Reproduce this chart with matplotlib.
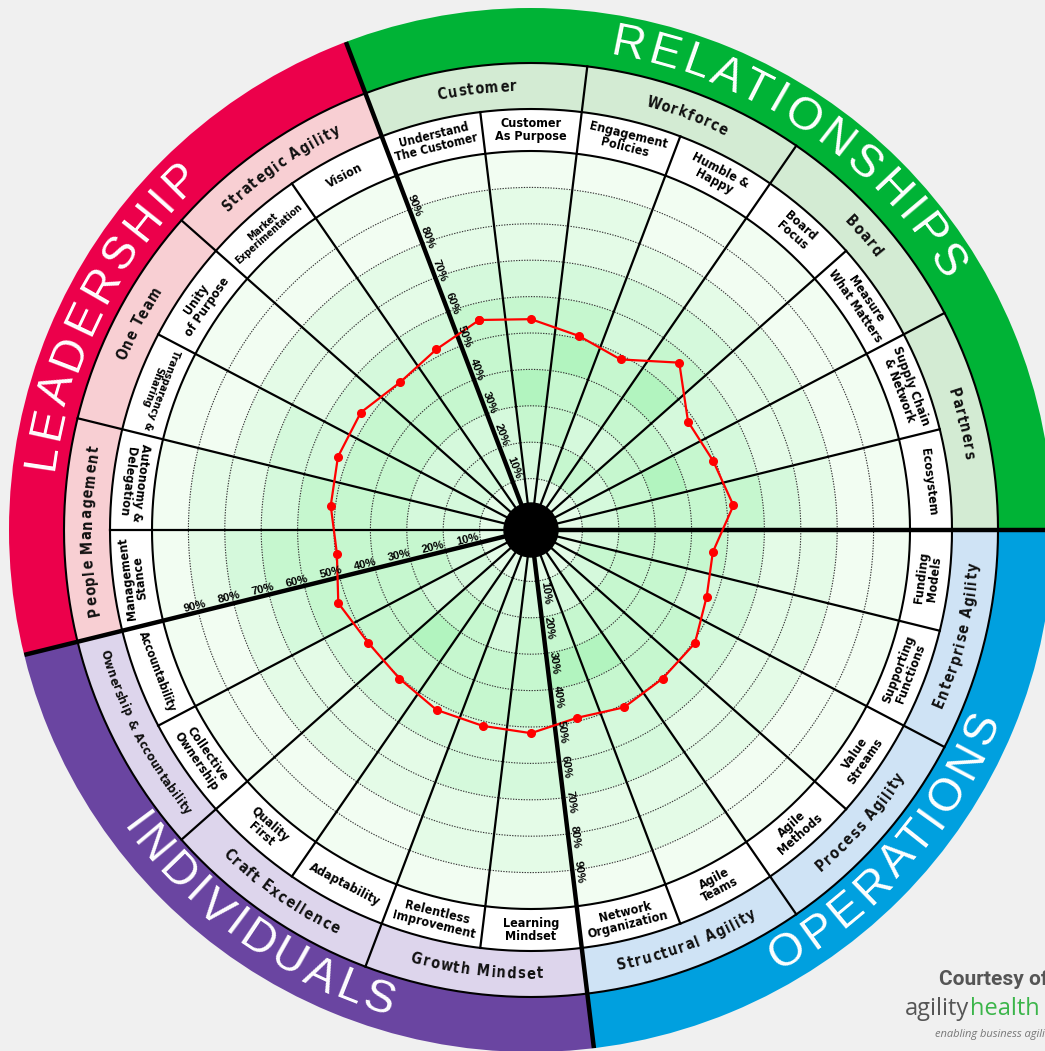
import numpy as np
import matplotlib
matplotlib.use('Agg')
import matplotlib.pyplot as plt
from matplotlib.patches import Circle
from matplotlib.font_manager import FontProperties
from matplotlib.textpath import text_to_path

# ---------------- data ----------------
quadrants = ['RELATIONSHIPS', 'OPERATIONS', 'INDIVIDUALS', 'LEADERSHIP']
quadrant_item_counts = [8, 6, 6, 6]
subcategories = ['Customer', 'Workforce', 'Board', 'Partners',
                 'Enterprise Agility', 'Process Agility', 'Structural Agility',
                 'Growth Mindset', 'Craft Excellence', 'Ownership & Accountability',
                 'People Management', 'One Team', 'Strategic Agility']
items = ['Understand\nThe Customer', 'Customer\nAs Purpose', 'Engagement\nPolicies',
         'Humble &\nHappy', 'Board\nFocus', 'Measure\nWhat Matters',
         'Supply Chain\n& Network', 'Ecosystem', 'Funding\nModels',
         'Supporting\nFunctions', 'Value\nStreams', 'Agile\nMethods', 'Agile\nTeams',
         'Network\nOrganization', 'Learning\nMindset', 'Relentless\nImprovement',
         'Adaptability', 'Quality\nFirst', 'Collective\nOwnership', 'Accountability',
         'Management\nStance', 'Autonomy &\nDelegation', 'Transparency &\nSharing',
         'Unity\nof Purpose', 'Market\nExperimentation', 'Vision']
scores = [55.3, 53.8, 50.8, 48.8, 57.3, 48.3, 49.4, 51.9, 46.2, 47.5, 50.6, 50.4, 50.9,
          49.0, 51.7, 51.3, 51.7, 50.4, 50.3, 52.5, 49.6, 51.3, 52.6, 52.7, 50.1, 51.9]
pct_ticks = [10, 20, 30, 40, 50, 60, 70, 80, 90]
# shading level of each 10% band (0-10 ... 90-100) for each item
shade_levels = [
    [1, 2, 2, 3, 3, 3, 2, 1, 1, 0],
    [1, 2, 3, 4, 3, 3, 2, 1, 1, 0],
    [1, 2, 3, 3, 4, 3, 2, 1, 1, 0],
    [1, 3, 2, 3, 3, 2, 2, 1, 0, 0],
    [1, 3, 2, 3, 4, 3, 2, 1, 0, 0],
    [1, 2, 3, 3, 2, 2, 1, 1, 0, 0],
    [1, 2, 3, 4, 3, 2, 1, 1, 0, 0],
    [1, 2, 3, 3, 3, 3, 2, 1, 0, 0],
    [1, 2, 3, 3, 3, 2, 1, 1, 0, 0],
    [1, 3, 3, 3, 2, 2, 1, 1, 0, 0],
    [1, 2, 3, 3, 3, 2, 1, 1, 0, 0],
    [1, 2, 3, 3, 3, 2, 1, 1, 0, 0],
    [1, 2, 3, 4, 3, 2, 2, 1, 1, 0],
    [1, 2, 3, 4, 3, 2, 2, 1, 1, 0],
    [1, 2, 3, 3, 3, 2, 2, 1, 1, 0],
    [1, 2, 2, 3, 3, 2, 2, 1, 1, 0],
    [1, 2, 3, 3, 3, 2, 1, 1, 0, 0],
    [1, 2, 3, 4, 3, 2, 1, 1, 0, 0],
    [1, 2, 2, 3, 3, 2, 1, 1, 0, 0],
    [1, 2, 3, 3, 3, 3, 2, 1, 0, 0],
    [1, 2, 3, 3, 3, 3, 3, 2, 1, 0],
    [1, 2, 2, 3, 3, 3, 2, 1, 1, 0],
    [1, 2, 2, 3, 3, 2, 2, 1, 0, 0],
    [1, 2, 2, 3, 3, 2, 1, 1, 0, 0],
    [1, 2, 2, 3, 3, 2, 1, 1, 0, 0],
    [1, 2, 2, 3, 3, 2, 1, 1, 0, 0],
]

# ---------------- style ----------------
level_colors = ['#f2fdf2', '#e4fbe7', '#d5f9dc', '#c6f7cf', '#b2f4bf']
quad_colors = ['#00b336', '#00a0df', '#6a45a1', '#ec004b']
sub_colors = ['#d3ebd3', '#cfe3f5', '#ddd5ec', '#f8cfd3']
# first / last letter angle of the big curved quadrant titles, reading direction
quad_text_pos = [(78.7, 32.8, True), (-58.6, -23.7, False),
                 (-143.3, -107.9, False), (171.5, 135.0, True)]
item_inward_override = {'Autonomy &\nDelegation': True, 'Transparency &\nSharing': True,
                        'Management\nStance': False}

W, H = 1045, 1051
CX, CY = 531, 530
R_OUT = 522
PX_PER = 3.64
R_ZERO = 15.0


def v(px):
    return (px - R_ZERO) / PX_PER


R_ITEM_IN, R_ITEM_OUT, R_SUB_OUT = 379, 421, 467

fig = plt.figure(figsize=(W / 100, H / 100), dpi=100, facecolor='#f0f0f0')
ax = fig.add_axes([(CX - R_OUT) / W, (H - CY - R_OUT) / H, 2 * R_OUT / W, 2 * R_OUT / H],
                  projection='polar')
ax.set_ylim(0, v(R_OUT))
ax.set_rorigin(v(0))
ax.axis('off')

N = len(items)
step = 360.0 / N
start = quadrant_item_counts[0] * step
item_deg = np.array([start - (i + 0.5) * step for i in range(N)])
item_th = np.deg2rad(item_deg)

# heat cells
for k in range(10):
    cols = [level_colors[shade_levels[i][k]] for i in range(N)]
    ax.bar(item_th, 10, width=np.deg2rad(step), bottom=10 * k, color=cols,
           edgecolor=cols, linewidth=0.4, align='center', zorder=1)

# item ring
ax.bar(item_th, v(R_ITEM_OUT) - v(R_ITEM_IN), width=np.deg2rad(step), bottom=v(R_ITEM_IN),
       color='white', linewidth=0, zorder=1)
# sub-category ring
sub_deg = np.array([start - (2 * s + 1) * step for s in range(len(subcategories))])
quad_of_sub = []
for q, n in enumerate(quadrant_item_counts):
    quad_of_sub += [q] * (n // 2)
ax.bar(np.deg2rad(sub_deg), v(R_SUB_OUT) - v(R_ITEM_OUT), width=np.deg2rad(2 * step),
       bottom=v(R_ITEM_OUT), color=[sub_colors[q] for q in quad_of_sub], linewidth=0, zorder=1)
# quadrant ring
cum = np.cumsum([0] + quadrant_item_counts)
quad_deg = np.array([start - (cum[q] + quadrant_item_counts[q] / 2) * step for q in range(4)])
ax.bar(np.deg2rad(quad_deg), v(R_OUT) - v(R_SUB_OUT) + 1,
       width=np.deg2rad(np.array(quadrant_item_counts) * step),
       bottom=v(R_SUB_OUT), color=quad_colors, linewidth=0, zorder=1)

# dotted grid circles
full = np.linspace(0, 2 * np.pi, 721)
for p in pct_ticks:
    ax.plot(full, np.full_like(full, p), color='#333333', lw=0.8, ls=(0, (1.2, 1.2)), zorder=2)
for rr in (R_ITEM_IN, R_ITEM_OUT, R_SUB_OUT):
    ax.plot(full, np.full_like(full, v(rr)), color='black', lw=1.5, zorder=3)

# radial lines
for j in range(N):
    a = np.deg2rad(start - j * step)
    if j in cum[:4]:
        ax.plot([a, a], [0, v(R_OUT)], color='black', lw=3.2, zorder=4, solid_capstyle='butt')
    elif j % 2 == 0:
        ax.plot([a, a], [0, v(R_SUB_OUT)], color='black', lw=1.6, zorder=3)
    else:
        ax.plot([a, a], [0, v(R_ITEM_OUT)], color='black', lw=1.6, zorder=3)

# data line
ax.plot(np.r_[item_th, item_th[0]], np.r_[scores, scores[0]], color='#ff0000', lw=1.6,
        marker='o', ms=5.5, zorder=6)

ax.add_patch(Circle((0.5, 0.5), 27 / (2 * R_OUT), transform=ax.transAxes,
                    color='black', zorder=7, clip_on=False))

# percentage labels on the 4 quadrant axes
fp_pct = FontProperties(family=['Liberation Sans', 'DejaVu Sans'], weight='bold', size=8.2)
for j in cum[:4]:
    a = (start - j * step + 180) % 360 - 180
    rot = a if -90 <= a <= 90 else (a - 180 if a > 0 else a + 180)
    u = np.deg2rad(rot + 90)
    off = 6.5 * 72 / 100
    for p in pct_ticks:
        rp = 64 + (p - 10) * 3.51
        ax.annotate(f'{p}%', xy=(np.deg2rad(a), v(rp)), xytext=(off * np.cos(u), off * np.sin(u)),
                    textcoords='offset points', rotation=rot, rotation_mode='anchor',
                    ha='center', va='center', fontproperties=fp_pct, zorder=8)


def _w(t, fp):
    if not t.strip():
        return 0.0
    return text_to_path.get_text_width_height_descent(t, fp, ismath=False)[0] * 100 / 72


# item labels (shrunk to fit their cell when needed)
ITEM_FONT = ['Liberation Sans Narrow', 'DejaVu Sans']
cell_chord = 2 * R_ITEM_IN * np.sin(np.deg2rad(step / 2)) * 0.93
for i, lab in enumerate(items):
    d = item_deg[i]
    inward = np.sin(np.deg2rad(d)) < -1e-9
    if lab in item_inward_override:
        inward = item_inward_override[lab]
    rot = d + 90 if inward else d - 90
    size = 9.0
    fp_item = FontProperties(family=ITEM_FONT, weight='bold', stretch='condensed', size=size)
    wmax = max(_w(line, fp_item) for line in lab.split('\n'))
    if wmax > cell_chord:
        size = size * cell_chord / wmax
        fp_item = FontProperties(family=ITEM_FONT, weight='bold', stretch='condensed', size=size)
    ax.text(item_th[i], v((R_ITEM_IN + R_ITEM_OUT) / 2), lab, rotation=rot,
            rotation_mode='anchor', ha='center', va='center', multialignment='center',
            linespacing=1.0, fontproperties=fp_item, zorder=8)


def curved_text(s, r_px, fp, color, outward, first=None, last=None, center=None, track=0.0):
    cs = []
    for k, ch in enumerate(s):
        if ch == ' ':
            cs.append(_w(s[:k] + 'x', fp) - _w('x', fp) / 2)
        else:
            cs.append(_w(s[:k + 1], fp) - _w(ch, fp) / 2)
    cs = np.array(cs)
    n = len(s)
    if first is not None:
        span = r_px * np.deg2rad(abs(last - first))
        track = (span - (cs[-1] - cs[0])) / (n - 1)
    cs = cs + track * np.arange(n)
    if first is not None:
        ref_deg, ref = first, cs[0]
    else:
        ref_deg, ref = center, (cs[0] + cs[-1]) / 2
    sign = -1 if outward else 1
    for k, ch in enumerate(s):
        if ch == ' ':
            continue
        ph = ref_deg + sign * np.rad2deg((cs[k] - ref) / r_px)
        rot = ph - 90 if outward else ph + 90
        ax.text(np.deg2rad(ph), v(r_px), ch, rotation=rot, rotation_mode='anchor',
                ha='center', va='center', fontproperties=fp, color=color, zorder=9)


r_sub = (R_ITEM_OUT + R_SUB_OUT) / 2
sub_arc = r_sub * np.deg2rad(2 * step) * 0.86
for s, lab in enumerate(subcategories):
    d = sub_deg[s]
    outward = np.sin(np.deg2rad(d)) > -1e-9
    size, track = 10.5, 1.2
    fp_sub = FontProperties(family=ITEM_FONT, weight='bold', stretch='condensed', size=size)
    wl = _w(lab, fp_sub) + track * (len(lab) - 1)
    if wl > sub_arc:
        track = 0.3
        size = size * sub_arc / (_w(lab, fp_sub) + track * (len(lab) - 1))
        fp_sub = FontProperties(family=ITEM_FONT, weight='bold', stretch='condensed', size=size)
    curved_text(lab, r_sub, fp_sub, '#111111', outward, center=d, track=track)

fp_quad = FontProperties(family=['Liberation Sans', 'DejaVu Sans'], size=33)
for q, name in enumerate(quadrants):
    f, l, outw = quad_text_pos[q]
    curved_text(name, 494, fp_quad, 'white', outw, first=f, last=l)

# courtesy text
fig.text(939 / W, 1 - 985 / H, 'Courtesy of', fontsize=15, fontweight='bold', color='#555555',
         family=['Roboto', 'DejaVu Sans'])
fp_logo = FontProperties(family=['Open Sans', 'DejaVu Sans'], size=17)
fig.text(905 / W, 1 - 1015 / H, 'agility', fontproperties=fp_logo, color='#555555')
fig.text((905 + _w('agility', fp_logo) + 1) / W, 1 - 1015 / H, 'health',
         fontproperties=fp_logo, color='#3bb54a')
fig.text(935 / W, 1 - 1037 / H, 'enabling business agility', fontsize=8, style='italic',
         color='#777777', family=['Open Sans', 'DejaVu Sans'])

fig.savefig('out.png', dpi=100, facecolor=fig.get_facecolor())
